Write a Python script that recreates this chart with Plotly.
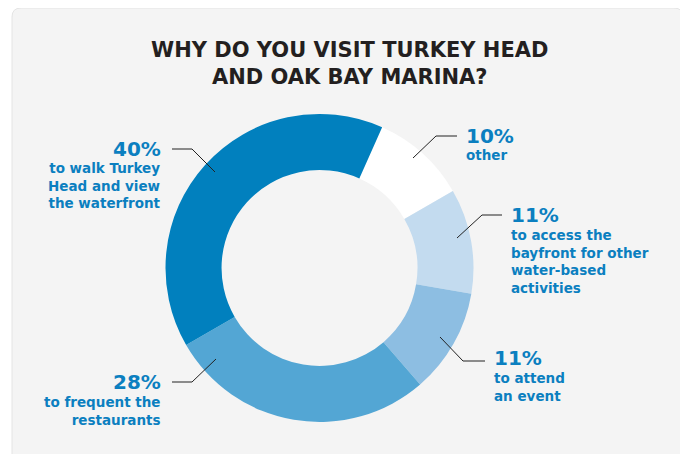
import plotly.graph_objects as go

# ---- data ----
categories = ["other",
              "to access the bayfront for other water-based activities",
              "to attend an event",
              "to frequent the restaurants",
              "to walk Turkey Head and view the waterfront"]
values = [10, 11, 11, 28, 40]
pct_labels = ["10%", "11%", "11%", "28%", "40%"]
desc_labels = ["other",
               "to access the<br>bayfront for other<br>water-based<br>activities",
               "to attend<br>an event",
               "to frequent the<br>restaurants",
               "to walk Turkey<br>Head and view<br>the waterfront"]
slice_colors = ["#FFFFFF", "#C3DBEF", "#8DBEE2", "#53A6D4", "#0180BE"]

W, H = 688, 454
OFF = 8  # page body margin
def px(x): return (x - OFF) / W
def py(y): return 1 - (y - OFF) / H

cx, cy, R = 319.5, 268, 154

fig = go.Figure()
fig.add_trace(go.Pie(
    labels=categories, values=values, sort=False, direction="clockwise",
    rotation=24, hole=0.636,
    marker=dict(colors=slice_colors, line=dict(width=0)),
    textinfo="none", hoverinfo="label+percent", showlegend=False,
    domain=dict(x=[px(cx - R), px(cx + R)], y=[py(cy + R), py(cy - R)]),
))

# label placements (pixel positions): (x, pct_y, desc_y, side)
place = [
    (464, 136, 155, "left"),
    (509, 215, 261.5, "left"),
    (492, 358, 386.5, "left"),
    (163, 382, 410.5, "right"),
    (163, 149, 185, "right"),
]
# leader lines: start near text, elbow, tip on ring
leaders = [
    ((457, 136), (436, 136), (413, 158)),
    ((502, 215), (482, 215), (457, 238)),
    ((485, 361), (463, 361), (440, 337)),
    ((172, 382), (192, 382), (216, 359)),
    ((172, 149), (192, 149), (215, 172)),
]

blue = "#0B7FC0"
font_name = "DejaVu Sans"
anns = []
for (x, yp, yd, side), p, d in zip(place, pct_labels, desc_labels):
    anchor = "left" if side == "left" else "right"
    anns.append(dict(x=px(x), y=py(yp), xref="paper", yref="paper", text="<b>%s</b>" % p,
                     showarrow=False, xanchor=anchor, yanchor="middle", align=anchor,
                     font=dict(family=font_name, size=20, color=blue)))
    anns.append(dict(x=px(x), y=py(yd), xref="paper", yref="paper", text="<b>%s</b>" % d,
                     showarrow=False, xanchor=anchor, yanchor="middle", align=anchor,
                     font=dict(family=font_name, size=13.5, color=blue)))

anns.append(dict(x=px(349), y=py(63.5), xref="paper", yref="paper",
                 text="<b>WHY DO YOU VISIT TURKEY HEAD<br>AND OAK BAY MARINA?</b>",
                 showarrow=False, xanchor="center", yanchor="middle", align="center",
                 font=dict(family=font_name, size=21, color="#231F20")))

shapes = []
# card background with rounded top corners
x0, y0, x1, y1, r = 12, 8, 683, 480, 9
path = (f"M {px(x0)},{py(y1)} L {px(x0)},{py(y0 + r)} "
        f"Q {px(x0)},{py(y0)} {px(x0 + r)},{py(y0)} "
        f"L {px(x1 - r)},{py(y0)} Q {px(x1)},{py(y0)} {px(x1)},{py(y0 + r)} "
        f"L {px(x1)},{py(y1)} Z")
shapes.append(dict(type="path", xref="paper", yref="paper", path=path,
                   fillcolor="#F4F4F4", line=dict(color="#E4E4E4", width=1), layer="below"))
for a, b, c in leaders:
    shapes.append(dict(type="path", xref="paper", yref="paper",
                       path=f"M {px(a[0])},{py(a[1])} L {px(b[0])},{py(b[1])} L {px(c[0])},{py(c[1])}",
                       line=dict(color="#222222", width=1)))

fig.update_layout(width=W, height=H, margin=dict(l=0, r=0, t=0, b=0),
                  paper_bgcolor="#FFFFFF", plot_bgcolor="#FFFFFF",
                  annotations=anns, shapes=shapes)
fig.write_html("out.html")
